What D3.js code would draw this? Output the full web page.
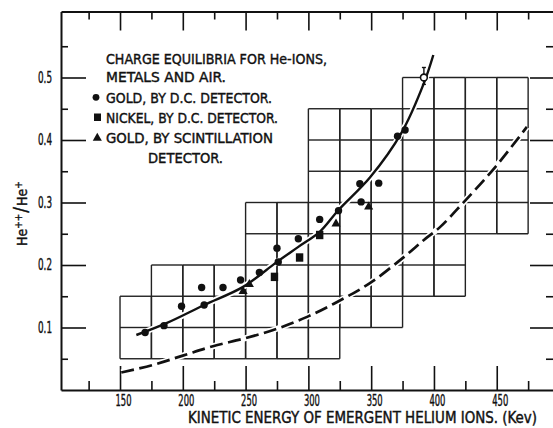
<!DOCTYPE html>
<html>
<head>
<meta charset="utf-8">
<script src="https://cdn.jsdelivr.net/npm/d3@7"></script>
<style>
  html, body { margin: 0; padding: 0; background: #fff; }
  svg { display: block; }
  text { font-family: "Liberation Sans Narrow", "DejaVu Sans Condensed", "Roboto Condensed", "DejaVu Sans", sans-serif; fill: #111; stroke: #111; stroke-width: 0.4px; }
</style>
</head>
<body>
<svg id="chart" width="553" height="428"></svg>
<script>
// He++/He+ ratio against emergent energy (keV)
const goldDCKev = [170, 185, 199, 215, 217, 232, 246, 261, 275, 276, 292, 309, 324, 341, 342, 356, 371, 377];
const goldDCVal = [0.092, 0.103, 0.134, 0.164, 0.136, 0.164, 0.176, 0.188, 0.227, 0.205, 0.242, 0.273, 0.287, 0.330, 0.301, 0.331, 0.406, 0.416];
const nickelKev = [273, 293, 309];
const nickelVal = [0.181, 0.212, 0.248];
const scintKev = [248, 253, 322, 348];
const scintVal = [0.158, 0.169, 0.266, 0.293];
// top gold point, drawn open with its error bar
const errKev = [392];
const errVal = [0.500];
const errLo = [0.489];
const errHi = [0.516];

// smooth curve through the measurements
const fitKev = [163, 187, 217, 248, 275, 292, 309, 324, 349, 374, 392, 399.5];
const fitVal = [0.088, 0.107, 0.136, 0.165, 0.205, 0.229, 0.253, 0.288, 0.340, 0.411, 0.491, 0.536];
// dashed comparison curve
const dashKev = [151, 176, 200, 224, 250, 275, 299, 324, 349, 375, 392, 405, 423, 449, 474];
const dashVal = [0.028, 0.040, 0.055, 0.070, 0.083, 0.098, 0.117, 0.142, 0.171, 0.211, 0.240, 0.261, 0.299, 0.357, 0.421];

// stepped block of graph-paper squares: column start (keV), bottom and top ratio
const blockKev = [150, 175, 200, 225, 250, 275, 300, 325, 350, 375, 400, 425, 450];
const blockLo  = [0.05, 0.05, 0.05, 0.05, 0.05, 0.05, 0.05, 0.10, 0.10, 0.15, 0.15, 0.25, 0.25];
const blockHi  = [0.15, 0.20, 0.20, 0.20, 0.30, 0.30, 0.45, 0.45, 0.45, 0.50, 0.50, 0.50, 0.50];

// ticks
const xMajor = [150, 200, 250, 300, 350, 400, 450];
const xMinor = [125, 175, 225, 275, 325, 375, 425, 475];
const xTickLabels = ["150", "200", "250", "300", "350", "400", "450"];
const yMajor = [0.1, 0.2, 0.3, 0.4, 0.5];
const yMinor = [0.05, 0.15, 0.25, 0.35, 0.45, 0.55];
const yTickLabels = ["0.1", "0.2", "0.3", "0.4", "0.5"];

const legendTitle = ["CHARGE EQUILIBRIA FOR He-IONS,", "METALS AND AIR."];
const legendEntries = ["GOLD, BY D.C. DETECTOR.", "NICKEL, BY D.C. DETECTOR.", "GOLD, BY SCINTILLATION"];
const legendTail = "DETECTOR.";
const xTitle = "KINETIC ENERGY OF EMERGENT HELIUM IONS. (Kev)";

const svg = d3.select("#chart");
const x = d3.scaleLinear().domain([103, 495.6]).range([61, 554]);
const y = d3.scaleLinear().domain([0, 0.6056]).range([390, 11.5]);

const INK = "#111";

// ---- graph-paper block ----
const grid = svg.append("g").attr("stroke", "#222").attr("stroke-width", 1.4).attr("fill", "none");
blockKev.forEach((k, i) => {
  const x0 = x(k), x1 = x(k + 25);
  d3.range(blockLo[i], blockHi[i] + 0.001, 0.05).forEach(v => {
    grid.append("line").attr("x1", x0).attr("x2", x1).attr("y1", y(v)).attr("y2", y(v));
  });
  [x0, x1].forEach(xx => {
    grid.append("line").attr("x1", xx).attr("x2", xx).attr("y1", y(blockLo[i])).attr("y2", y(blockHi[i]));
  });
});

// ---- axes (ticks point inward) ----
function styleAxis(g, w) {
  g.select(".domain").attr("stroke", INK).attr("stroke-width", w);
  g.selectAll(".tick line").attr("stroke", INK).attr("stroke-width", 1.6);
}

const bottomMajor = svg.append("g").attr("transform", "translate(0,390)")
  .call(d3.axisBottom(x).tickValues(xMajor).tickSizeInner(-24).tickSizeOuter(0).tickPadding(5)
    .tickFormat((d, i) => xTickLabels[i]));
styleAxis(bottomMajor, 2);
bottomMajor.selectAll("text").attr("font-size", 15).attr("dx", 3)
  .attr("textLength", 16).attr("lengthAdjust", "spacingAndGlyphs").attr("fill", INK);

const bottomMinor = svg.append("g").attr("transform", "translate(0,390)")
  .call(d3.axisBottom(x).tickValues(xMinor).tickSize(-9).tickFormat(""));
bottomMinor.select(".domain").remove();
styleAxis(bottomMinor, 0);

const topMajor = svg.append("g").attr("transform", "translate(0,11.5)")
  .call(d3.axisTop(x).tickValues(xMajor).tickSizeInner(-19).tickSizeOuter(0).tickFormat(""));
styleAxis(topMajor, 1.8);
const topMinor = svg.append("g").attr("transform", "translate(0,11.5)")
  .call(d3.axisTop(x).tickValues(xMinor).tickSize(-8).tickFormat(""));
topMinor.select(".domain").remove();
styleAxis(topMinor, 0);

const leftMajor = svg.append("g").attr("transform", "translate(61,0)")
  .call(d3.axisLeft(y).tickValues(yMajor).tickSizeInner(-25).tickSizeOuter(0).tickPadding(9)
    .tickFormat((d, i) => yTickLabels[i]));
styleAxis(leftMajor, 2);
leftMajor.selectAll("text").attr("font-size", 15)
  .attr("textLength", 14).attr("lengthAdjust", "spacingAndGlyphs").attr("fill", INK);
const leftMinor = svg.append("g").attr("transform", "translate(61,0)")
  .call(d3.axisLeft(y).tickValues(yMinor).tickSize(-7).tickFormat(""));
leftMinor.select(".domain").remove();
styleAxis(leftMinor, 0);

const rightMajor = svg.append("g").attr("transform", "translate(554,0)")
  .call(d3.axisRight(y).tickValues(yMajor).tickSizeInner(-24).tickSizeOuter(0).tickFormat(""));
styleAxis(rightMajor, 2);
const rightMinor = svg.append("g").attr("transform", "translate(554,0)")
  .call(d3.axisRight(y).tickValues(yMinor).tickSize(-8).tickFormat(""));
rightMinor.select(".domain").remove();
styleAxis(rightMinor, 0);

// ---- curves ----
const line = d3.line().x(d => x(d[0])).y(d => y(d[1])).curve(d3.curveCatmullRom.alpha(0.5));
const fitPts = fitKev.map((k, i) => [k, fitVal[i]]);
const dashPts = dashKev.map((k, i) => [k, dashVal[i]]);

[dashPts, fitPts].forEach(pts => {
  svg.append("path").attr("d", line(pts)).attr("fill", "none")
    .attr("stroke", "#fff").attr("stroke-width", 6);
});
svg.append("path").attr("d", line(dashPts)).attr("fill", "none")
  .attr("stroke", INK).attr("stroke-width", 2.7).attr("stroke-dasharray", "13,5.5");
svg.append("path").attr("d", line(fitPts)).attr("fill", "none")
  .attr("stroke", INK).attr("stroke-width", 2.4);

// ---- markers ----
const marks = svg.append("g").attr("fill", INK);
goldDCKev.forEach((k, i) => {
  marks.append("circle").attr("cx", x(k)).attr("cy", y(goldDCVal[i])).attr("r", 3.7);
});
nickelKev.forEach((k, i) => {
  marks.append("rect").attr("x", x(k) - 3.7).attr("y", y(nickelVal[i]) - 4.2).attr("width", 7.4).attr("height", 8.4);
});
const tri = d3.symbol().type(d3.symbolTriangle).size(36);
scintKev.forEach((k, i) => {
  marks.append("path").attr("d", tri()).attr("transform", `translate(${x(k)},${y(scintVal[i])})`);
});
errKev.forEach((k, i) => {
  const cx = x(k);
  const eb = svg.append("g").attr("stroke", INK).attr("stroke-width", 1.4);
  eb.append("line").attr("x1", cx).attr("x2", cx).attr("y1", y(errLo[i])).attr("y2", y(errHi[i]));
  eb.append("line").attr("x1", cx - 2).attr("x2", cx + 2).attr("y1", y(errHi[i])).attr("y2", y(errHi[i]));
  eb.append("line").attr("x1", cx - 2).attr("x2", cx + 2).attr("y1", y(errLo[i])).attr("y2", y(errLo[i]));
  svg.append("circle").attr("cx", cx).attr("cy", y(errVal[i])).attr("r", 3.4)
    .attr("fill", "#fff").attr("stroke", INK).attr("stroke-width", 1.6);
});

// ---- legend ----
const lg = svg.append("g").attr("font-size", 14.5);
const titleLens = [221, 120];
legendTitle.forEach((t, i) => {
  lg.append("text").attr("x", 106).attr("y", 64 + i * 17.5).text(t)
    .attr("textLength", titleLens[i]).attr("lengthAdjust", "spacingAndGlyphs");
});
const entryLens = [166, 172, 167];
legendEntries.forEach((t, i) => {
  lg.append("text").attr("x", 106).attr("y", 103 + i * 20).text(t)
    .attr("textLength", entryLens[i]).attr("lengthAdjust", "spacingAndGlyphs");
});
lg.append("text").attr("x", 148).attr("y", 162.7).text(legendTail)
  .attr("textLength", 75).attr("lengthAdjust", "spacingAndGlyphs");
lg.append("circle").attr("cx", 96).attr("cy", 97.3).attr("r", 3.4).attr("fill", INK);
lg.append("rect").attr("x", 94).attr("y", 113.5).attr("width", 7).attr("height", 7.5).attr("fill", INK);
lg.append("path").attr("d", tri()).attr("transform", "translate(97.3,138)").attr("fill", INK);

// ---- axis titles ----
svg.append("text").attr("x", 188).attr("y", 422.5).attr("font-size", 15).text(xTitle)
  .attr("textLength", 349).attr("lengthAdjust", "spacingAndGlyphs");

const yt = svg.append("text").attr("transform", "translate(27,246) rotate(-90)")
  .attr("font-size", 14);
yt.append("tspan").text("He");
yt.append("tspan").attr("font-size", 10).attr("dy", -5).text("++");
yt.append("tspan").attr("font-size", 19).attr("dy", 5).attr("dx", 1).text("/");
yt.append("tspan").attr("dx", 1).text("He");
yt.append("tspan").attr("font-size", 10).attr("dy", -5).text("+");
</script>
</body>
</html>
